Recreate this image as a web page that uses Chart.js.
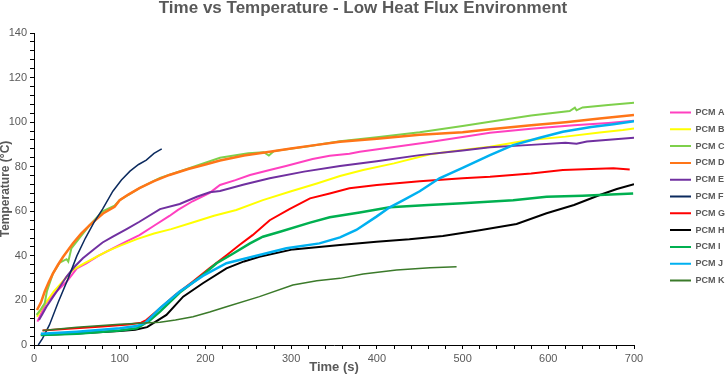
<!DOCTYPE html>
<html>
<head>
<meta charset="utf-8">
<script src="https://cdn.jsdelivr.net/npm/chart.js@4"></script>
<style>
  html, body { margin: 0; padding: 0; background: #fff; }
  #wrap { width: 726px; height: 374px; }
</style>
</head>
<body>
<div id="wrap"><canvas id="canvas" width="726" height="374"></canvas></div>
<script>
// [time (s), temperature (°C)]
const pcmA = [[4,10.5],[8,14],[14,18.7],[20,21.5],[28,24.7],[38,28.4],[50,34.4],[61,36.6],[75,40],[92,43.4],[108,46.5],[123,49.3],[140,53.5],[158,57.9],[168,60.6],[185,64.5],[205,68.3],[217,71.8],[235,74],[252,76.3],[275,78.5],[294,80.3],[325,83.5],[345,84.9],[368,85.8],[380,86.7],[420,88.8],[460,91],[500,93.3],[532,95.2],[580,97],[630,98.6],[670,99.6],[700,100.6]]
const pcmB = [[3.5,12.7],[10,17],[16,20.2],[23,24],[30,27],[38,30.5],[45,33.6],[58,36.5],[70,39],[85,42],[100,44.5],[120,47.5],[140,50],[160,52],[185,55],[210,58],[236,60.6],[267,65],[300,69],[330,72.5],[357,75.8],[384,78.5],[420,81.5],[462,85.6],[500,87.5],[532,89],[578,92],[620,93.5],[660,95.3],[687,96.5],[700,97.2]]
const pcmC = [[3,13.5],[8,16],[12.5,18.7],[15,24],[22,32],[30,37],[38,38.5],[40,37.4],[43.6,43.4],[55,49],[65,53.8],[80,60],[94,62.5],[100,65],[123,70.4],[147,75],[175,78.5],[217,84],[250,86],[268,86.5],[274,85],[280,87],[320,89.2],[357,91.4],[400,93.2],[450,95.5],[500,98.3],[532,100.2],[580,103],[625,105],[631,106.5],[633,105.3],[640,106.6],[670,107.7],[700,108.7]]
const pcmD = [[3.5,15.7],[8,19],[12.5,24],[17,28],[22,32],[28,36],[34,39.6],[45.5,45.7],[55,50],[65,53.8],[80.5,59],[94,62],[100,65],[110,67.5],[123,70.4],[140,73.5],[158,76.3],[180,79],[200,81],[217,82.8],[245,85],[275,86.7],[300,88.2],[330,89.8],[357,91.2],[400,92.5],[450,94.3],[500,95.5],[532,96.8],[580,98.6],[620,100],[660,101.6],[700,103.2]]
const pcmE = [[5.8,11.2],[10,14],[14.5,17.2],[22,21.5],[30,26],[37.8,30.6],[47,35],[57,38.9],[70,43],[80,46],[92,48.6],[108,52],[123,55.3],[147,61],[170,63.3],[190,66.5],[205,68.5],[217,69.1],[245,72],[275,74.8],[315,77.8],[357,80.3],[400,82.5],[450,85.2],[500,87.3],[532,88.7],[580,89.8],[620,90.7],[633,90.3],[645,91.3],[700,93]]
const pcmF = [[5,0],[10,3],[18,9],[28,19],[40,30],[50,40],[60,48],[70,55],[80,61],[92,69],[102,74],[112,78],[122,81],[131,83],[140,86],[149,88]]
const pcmG = [[10,6.5],[40,7.3],[80,8.3],[110,9.2],[125,10],[131,11.2],[147,16.5],[165,22.5],[185,28.4],[205,34.5],[225,40.4],[240,45],[255,49.3],[275,56],[298,61],[322,65.8],[345,68],[368,70.3],[400,71.8],[450,73.5],[500,74.8],[532,75.5],[580,77],[617,78.5],[650,79],[676,79.3],[695,78.8]]
const pcmH = [[8,4.5],[50,5.2],[100,6.3],[118,6.8],[132,8],[142,10.5],[154.5,13.5],[174,21.7],[197,27.7],[224.5,34.4],[245,37.5],[263,39.6],[302,42.9],[357,44.9],[399.5,46.3],[438,47.4],[477,48.9],[520,51.5],[563,54.3],[598,59.1],[630,62.8],[660,67.3],[680,70],[700,72.2]]
const pcmI = [[8,4.5],[50,5],[100,6.5],[120,7.5],[135,11],[147,15],[170,23.5],[197,31.4],[213,36.7],[230,40.5],[252,45.6],[267,48.6],[287,50.8],[322,54.9],[345,57.3],[380,59.5],[415,61.8],[460,62.8],[500,63.6],[559,65],[598,66.5],[640,67],[699,68]]
const pcmJ = [[8,5],[50,6],[100,7.5],[120,8.5],[130,10],[147,16.5],[170,24],[197,31],[224.5,36.7],[263,40.4],[294.5,43.4],[333,45.6],[357,48.3],[376,51.6],[399.5,57.6],[415,61.8],[431,65],[450,69],[473,74.8],[500,79.5],[532,85.2],[559,89.7],[590,93],[617,95.7],[650,97.8],[676,99.1],[701,100.5]]
const pcmK = [[10,6.5],[50,8],[100,9.3],[135,10],[147,10.2],[165,11.2],[185.5,12.7],[205,14.8],[224.5,17.2],[263,21.7],[302,26.9],[330,28.8],[357,29.9],[384,31.9],[423,33.6],[462,34.7],[493,35.1]]

const names = ['PCM A','PCM B','PCM C','PCM D','PCM E','PCM F','PCM G','PCM H','PCM I','PCM J','PCM K']
const series = [pcmA, pcmB, pcmC, pcmD, pcmE, pcmF, pcmG, pcmH, pcmI, pcmJ, pcmK]
const colors = ['#FF40C0','#FFFF00','#7ED04B','#FF7518','#7030A0','#0B2A5E','#FF0000','#000000','#00B050','#00B0F0','#3B7A2A']
const widths = [2, 2, 2, 2.5, 2, 1.5, 2, 2, 2.5, 2.5, 1.5]

const xTicks = [0, 100, 200, 300, 400, 500, 600, 700]
const yTicks = [0, 20, 40, 60, 80, 100, 120, 140]

const gray = '#595959'
const font = 'Liberation Sans, Arial, sans-serif'
const legendPad = 7.8

// put the legend where excel had it
const legendSpot = {
    id: 'legendSpot',
    afterInit(chart) {
        const lg = chart.legend
        const fit = lg.fit
        lg.fit = function () {
            fit.call(this)
            this.width = 92
        }
    },
    afterLayout(chart) {
        const lg = chart.legend
        lg.left = 670 - legendPad
        lg.right = lg.left + 120
        lg.width = 120
        lg.top += 9.5
        lg.bottom += 9.5
    }
}

const datasets = series.map((s, i) => ({
    label: names[i],
    data: s.map(p => ({ x: p[0], y: p[1] })),
    borderColor: colors[i],
    backgroundColor: colors[i],
    borderWidth: widths[i],
    pointRadius: 0,
    tension: 0,
    order: -i,
}))

new Chart(document.getElementById('canvas'), {
    type: 'line',
    data: { datasets },
    plugins: [legendSpot],
    options: {
        responsive: false,
        animation: false,
        layout: { padding: 0 },
        plugins: {
            title: {
                display: true,
                text: 'Time vs Temperature - Low Heat Flux Environment',
                color: gray,
                font: { family: 'Liberation Sans Narrow, Arial Narrow, sans-serif', size: 17, weight: 'bold', lineHeight: 1 },
                padding: { top: 0, bottom: 16 },
            },
            legend: {
                position: 'right',
                labels: {
                    color: gray,
                    font: { family: font, size: 9, weight: 'bold' },
                    boxWidth: 21,
                    boxHeight: 2,
                    padding: legendPad,
                    sort: (a, b) => a.datasetIndex - b.datasetIndex,
                    generateLabels(chart) {
                        return Chart.defaults.plugins.legend.labels.generateLabels(chart).map(it => {
                            it.lineWidth = 0
                            it.fillStyle = it.strokeStyle
                            return it
                        })
                    },
                },
            },
            tooltip: { enabled: false },
        },
        scales: {
            x: {
                type: 'linear',
                min: xTicks[0],
                max: xTicks[xTicks.length - 1],
                afterFit(scale) { scale.height = 29 },
                border: { color: '#000', width: 1 },
                grid: { drawOnChartArea: false, tickLength: 4, color: '#000' },
                ticks: {
                    stepSize: 20,
                    autoSkip: false,
                    maxRotation: 0,
                    padding: 3,
                    color: gray,
                    font: { family: font, size: 11 },
                    callback: v => xTicks.includes(v) ? v : '',
                },
                title: {
                    display: true,
                    text: 'Time (s)',
                    color: gray,
                    font: { family: font, size: 13, weight: 'bold', lineHeight: 1 },
                    padding: 0,
                },
            },
            y: {
                type: 'linear',
                min: yTicks[0],
                max: yTicks[yTicks.length - 1],
                afterFit(scale) { scale.width = 34 },
                border: { color: '#000', width: 1 },
                grid: { drawOnChartArea: false, tickLength: 4, color: '#000' },
                ticks: {
                    stepSize: 4,
                    autoSkip: false,
                    padding: 3,
                    color: gray,
                    font: { family: font, size: 11 },
                    callback: v => yTicks.includes(v) ? v : '',
                },
                title: {
                    display: true,
                    text: 'Temperature (°C)',
                    color: gray,
                    font: { family: font, size: 12, weight: 'bold', lineHeight: 1 },
                    padding: 0,
                },
            },
        },
    },
});
</script>
</body>
</html>
